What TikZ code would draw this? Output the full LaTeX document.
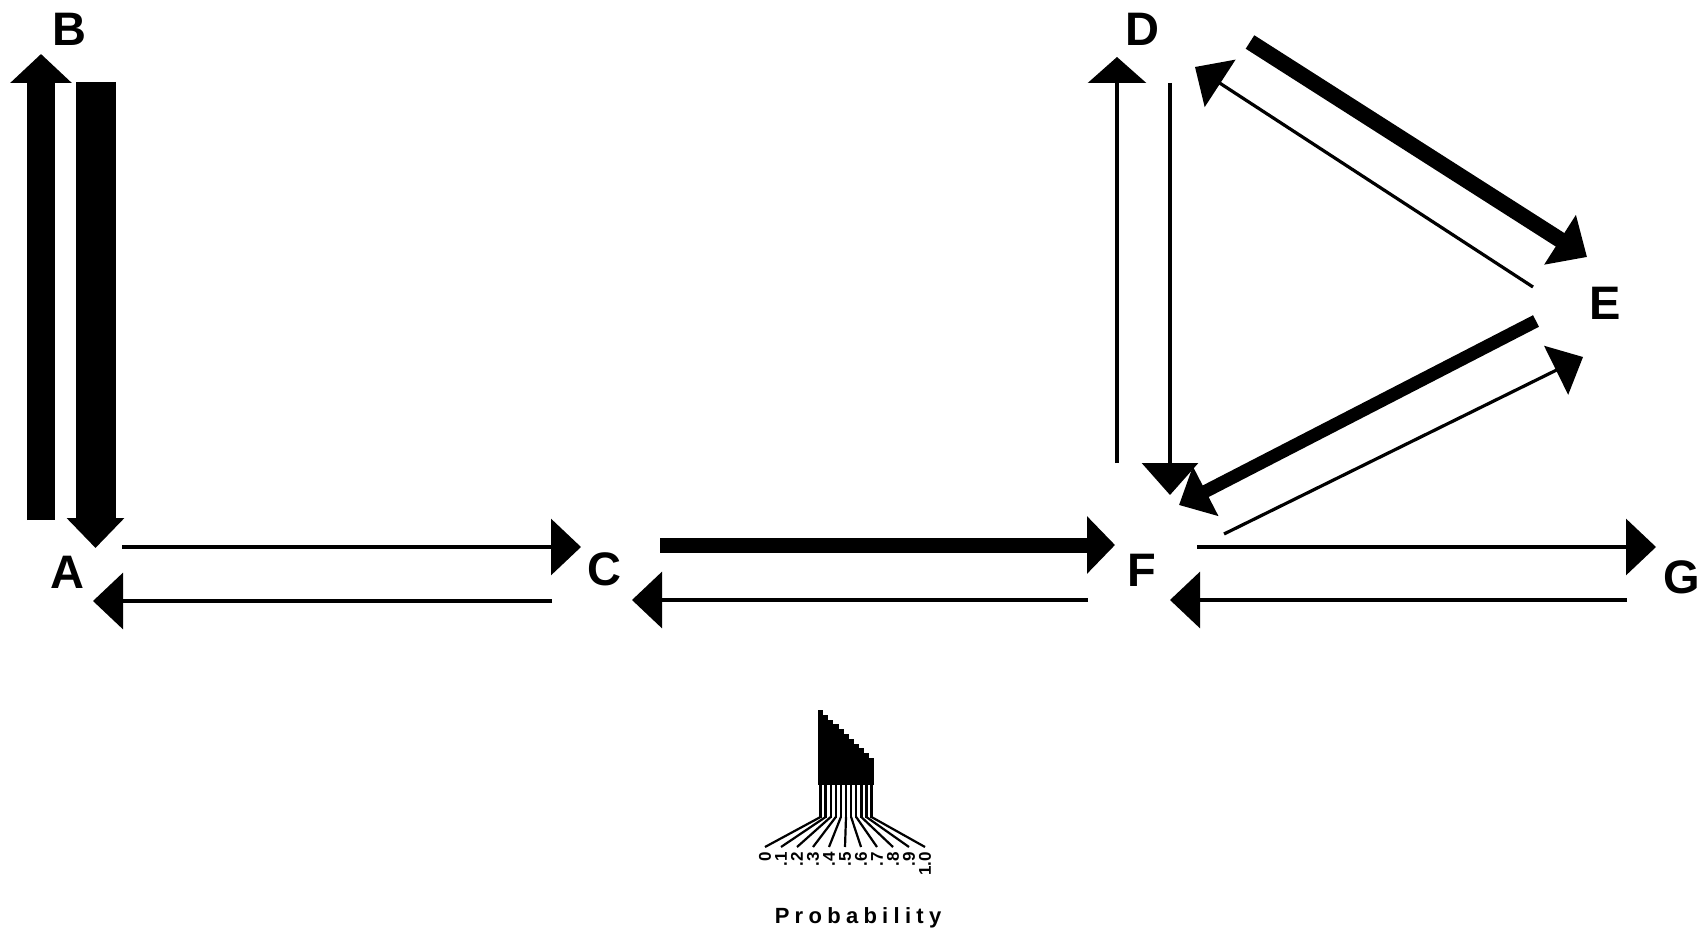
\documentclass[tikz,border=0pt]{standalone}
\usepackage{fontspec}
\setmainfont{Liberation Sans}
\usetikzlibrary{arrows.meta}
\begin{document}
\begin{tikzpicture}[x=1pt,y=-1pt,
  lbl/.style={font=\fontsize{47}{47}\selectfont\bfseries, inner sep=0pt},
  arr/.style n args={3}{line width=#1, -{Triangle[length=#2,width=#3]}},
  thinarr/.style={arr={3.2pt}{30pt}{56pt}},
  tick/.style={font=\fontsize{17}{17}\selectfont\bfseries, inner sep=0pt, rotate=90, anchor=east},
  stem/.style={line width=2.4pt},
  fan/.style={line width=2.2pt}
]
\useasboundingbox (0,0) rectangle (1698,933);
% labels
\node[lbl] (B) at (69,29) {B};
\node[lbl] (A) at (67,572) {A};
\node[lbl] (C) at (604,569) {C};
\node[lbl] (F) at (1142,570) {F};
\node[lbl] (G) at (1682,577) {G};
\node[lbl] (D) at (1142,29) {D};
\node[lbl] (E) at (1605,303) {E};
% arrow end points
\coordinate (abS) at (41,520);   \coordinate (abE) at (41,54);
\coordinate (baS) at (95.5,82);  \coordinate (baE) at (95.5,548);
\coordinate (acS) at (122,547);  \coordinate (acE) at (581,547);
\coordinate (caS) at (552,601);  \coordinate (caE) at (93,601);
\coordinate (cfS) at (660,545);  \coordinate (cfE) at (1115,545);
\coordinate (fcS) at (1088,600); \coordinate (fcE) at (632,600);
\coordinate (fgS) at (1197,547); \coordinate (fgE) at (1656,547);
\coordinate (gfS) at (1627,600); \coordinate (gfE) at (1170,600);
\coordinate (fdS) at (1117,463); \coordinate (fdE) at (1117,57);
\coordinate (dfS) at (1170,83);  \coordinate (dfE) at (1170,495);
\coordinate (deS) at (1250,42);  \coordinate (deE) at (1587,257);
\coordinate (edS) at (1533,287); \coordinate (edE) at (1195,67);
\coordinate (efS) at (1536,321); \coordinate (efE) at (1179,505);
\coordinate (feS) at (1224,534); \coordinate (feE) at (1583,357);
% arrows
\draw[arr={28pt}{29pt}{60pt}] (abS) -- (abE);
\draw[arr={40pt}{30pt}{56pt}] (baS) -- (baE);
\draw[thinarr] (acS) -- (acE);
\draw[thinarr] (caS) -- (caE);
\draw[arr={15pt}{28pt}{56pt}] (cfS) -- (cfE);
\draw[thinarr] (fcS) -- (fcE);
\draw[thinarr] (fgS) -- (fgE);
\draw[thinarr] (gfS) -- (gfE);
\draw[arr={3.2pt}{26pt}{58pt}] (fdS) -- (fdE);
\draw[arr={3.2pt}{32pt}{56pt}] (dfS) -- (dfE);
\draw[arr={16pt}{32pt}{57pt}] (deS) -- (deE);
\draw[thinarr] (edS) -- (edE);
\draw[arr={13pt}{30pt}{54pt}] (efS) -- (efE);
\draw[arr={3.2pt}{30pt}{54pt}] (feS) -- (feE);
% legend
\foreach \k/\t in {0/0,1/.1,2/.2,3/.3,4/.4,5/.5,6/.6,7/.7,8/.8,9/.9,10/1.0}{
  \fill (818+5.1*\k,710+4.8*\k) rectangle (818+5.1*\k+5.2,785);
  \draw[stem] (820.5+5.1*\k,784) -- (820.5+5.1*\k,818);
  \coordinate (lt\k) at (765+16*\k,852);
  \draw[fan] (820.5+5.1*\k,817) -- (765+16*\k,847);
  \node[tick] (lab\k) at (lt\k) {\t};
}
\node[font=\fontsize{22}{22}\selectfont\bfseries\addfontfeature{LetterSpace=24}, inner sep=0pt] (prob) at (858,918) {Probability};
\end{tikzpicture}
\end{document}
